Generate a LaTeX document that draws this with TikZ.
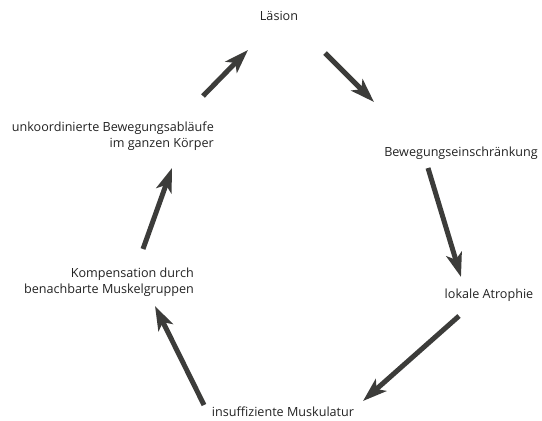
\documentclass[tikz,border=0pt]{standalone}
\usepackage{fontspec}
\setmainfont{Open Sans}
\usetikzlibrary{arrows.meta,positioning}
\usepackage{xcolor}
\definecolor{arrowgray}{HTML}{3C3C3A}
\definecolor{textgray}{HTML}{222222}

\begin{document}
\begin{tikzpicture}[x=1pt, y=-1pt,
    stage/.style={text=textgray, inner sep=0pt, font=\fontsize{12.6}{16.5}\selectfont},
    cycle/.style={draw=arrowgray, line width=5pt,
                  arrows=-{Stealth[length=24pt, width=16pt, inset=6pt]}}]
  \useasboundingbox (0,0) rectangle (542,421);
  % Stages of the cycle
  \node (lesion)[stage] at (279,17) {\strut Läsion};
  \node (restrict)[stage] at (461,153) {\strut Bewegungseinschränkung};
  \node (atrophy)[stage] at (489,295) {\strut lokale Atrophie};
  \node (weak)[stage] at (283,413) {\strut insuffiziente Muskulatur};
  \node (compens)[stage, align=right, anchor=east] at (194,282)
        {Kompensation durch\\benachbarte Muskelgruppen};
  \node (uncoord)[stage, align=right, anchor=east] at (214,136)
        {unkoordinierte Bewegungsabläufe\\im ganzen Körper};
  % Arrows
  \draw[cycle] ([shift={(46,36)}]lesion.center) -- ([shift={(-87,-51)}]restrict.center);
  \draw[cycle] ([shift={(-33,15)}]restrict.center) -- ([shift={(-28,-18)}]atrophy.center);
  \draw[cycle] ([shift={(-30,21)}]atrophy.center) -- ([shift={(80,-12)}]weak.center);
  \draw[cycle] ([shift={(-79,-8)}]weak.center) -- ([shift={(-39,24)}]compens.east);
  \draw[cycle] ([shift={(-51,-33)}]compens.east) -- ([shift={(-42,32)}]uncoord.east);
  \draw[cycle] ([shift={(-11,-40)}]uncoord.east) -- ([shift={(-31,33)}]lesion.center);
\end{tikzpicture}
\end{document}
